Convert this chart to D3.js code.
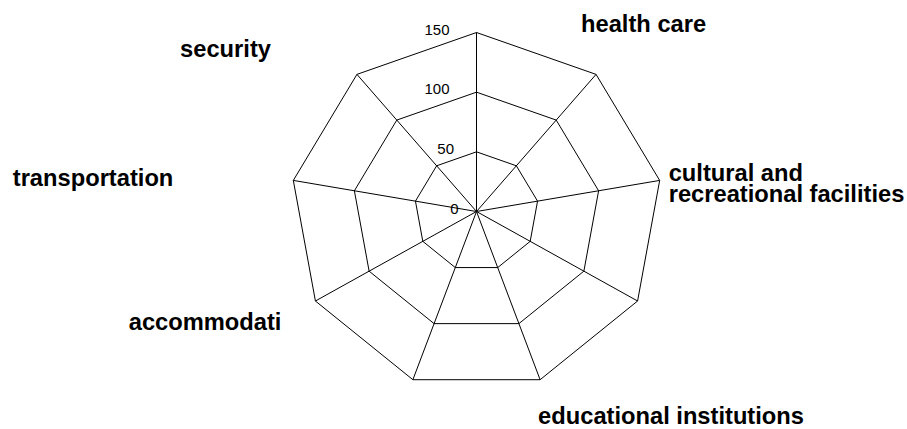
<!DOCTYPE html>
<html>
<head>
<meta charset="utf-8">
<script src="https://cdn.jsdelivr.net/npm/d3@7"></script>
<style>
  body { margin: 0; background: #fff; }
  svg { display: block; }
</style>
</head>
<body>
<div class="chart"></div>
<script>
var svgWidth = 907;
var svgHeight = 429;

// axis names, clockwise from the top (blank ones have no label)
var categories = ["", "health care", "cultural and\nrecreational facilities", "",
                  "educational institutions", "", "accommodati", "transportation", "security"];
var values = [0, 0, 0, 0, 0, 0, 0, 0, 0];
var tickValues = [0, 50, 100, 150];
var maxValue = 150;

// where each label sits, relative to the outer vertex of its axis
var labelLayout = {
  1: {dx: -15, dy: -42, anchor: "start"},
  2: {dx: 9, dy: 1, anchor: "start"},
  4: {dx: -2, dy: 44, anchor: "start"},
  6: {dx: -34, dy: 29, anchor: "end"},
  7: {dx: -120, dy: 6, anchor: "end"},
  8: {dx: -86, dy: -17, anchor: "end"}
};

var cx = 476.5, cy = 211.5;

var svg = d3.select(".chart")
    .append("svg")
    .attr("width", svgWidth)
    .attr("height", svgHeight);

var chart = svg.append("g")
    .attr("transform", "translate(" + cx + "," + cy + ")");

// the plot is a little wider than tall
var rx = d3.scaleLinear().domain([0, maxValue]).range([0, 186]);
var ry = d3.scaleLinear().domain([0, maxValue]).range([0, 179]);

var n = categories.length;
var angle = d3.scaleLinear().domain([0, n]).range([0, 2 * Math.PI]);

function px(i, v) { return rx(v) * Math.sin(angle(i)); }
function py(i, v) { return -ry(v) * Math.cos(angle(i)); }

var idx = d3.range(n);

// rings
tickValues.filter(function(t) { return t > 0; }).forEach(function(t) {
    chart.append("polygon")
        .attr("points", idx.map(function(i) { return px(i, t) + "," + py(i, t); }).join(" "))
        .style("fill", "none")
        .style("stroke", "#000")
        .style("stroke-width", 1);
});

// spokes
chart.selectAll(".spoke")
    .data(idx)
    .enter()
    .append("line")
    .attr("class", "spoke")
    .attr("x1", 0)
    .attr("y1", 0)
    .attr("x2", function(i) { return px(i, maxValue); })
    .attr("y2", function(i) { return py(i, maxValue); })
    .style("stroke", "#000")
    .style("stroke-width", 1);

// data polygon
chart.append("polygon")
    .attr("points", values.map(function(v, i) { return px(i, v) + "," + py(i, v); }).join(" "))
    .style("fill", "none")
    .style("stroke", "#000")
    .style("stroke-width", 2);

// tick labels next to the top spoke
chart.selectAll(".tick-label")
    .data(tickValues)
    .enter()
    .append("text")
    .attr("class", "tick-label")
    .attr("x", function(t) { return -27 + (3 - String(t).length) * 4.5; })
    .attr("y", function(t) { return -ry(t) + 2; })
    .attr("text-anchor", "end")
    .style("font-family", "Liberation Sans, Arial, sans-serif")
    .style("font-size", "15px")
    .style("fill", "#000")
    .text(function(t) { return t; });

// axis labels
idx.filter(function(i) { return categories[i] !== ""; }).forEach(function(i) {
    var lay = labelLayout[i];
    var t = chart.append("text")
        .attr("x", px(i, maxValue) + lay.dx)
        .attr("y", py(i, maxValue) + lay.dy)
        .attr("text-anchor", lay.anchor)
        .style("font-family", "Liberation Sans, Arial, sans-serif")
        .style("font-weight", "bold")
        .style("font-size", "23.7px")
        .style("fill", "#000");
    categories[i].split("\n").forEach(function(line, k) {
        t.append("tspan")
            .attr("x", px(i, maxValue) + lay.dx)
            .attr("dy", k === 0 ? 0 : 20.5)
            .text(line);
    });
});
</script>
</body>
</html>
